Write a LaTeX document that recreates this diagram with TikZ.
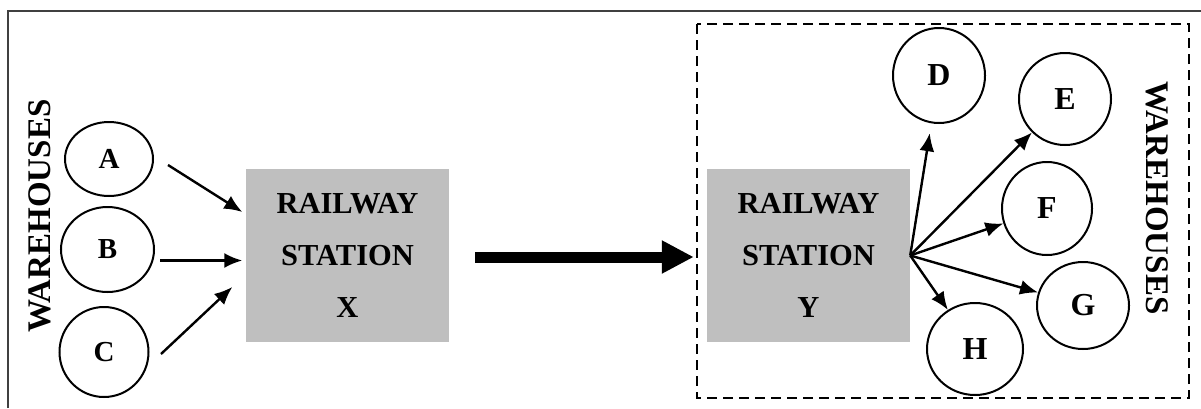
\documentclass[tikz,border=0pt]{standalone}
\usepackage{fontspec}
\setmainfont{Liberation Serif}
\usetikzlibrary{shapes.geometric}
\usetikzlibrary{arrows.meta}

\begin{document}
\begin{tikzpicture}[x=1pt,y=-1pt,
		house/.style={draw,ellipse,line width=2pt,inner sep=0pt,font=\fontsize{29}{29}\selectfont\bfseries},
		farhouse/.style={house,font=\fontsize{32}{32}\selectfont\bfseries},
		station/.style={fill=gray!50,minimum width=203pt,minimum height=173pt,inner sep=0pt,align=center,font=\fontsize{30.5}{52}\selectfont\bfseries},
		feed/.style={-{Latex[length=18pt,width=15pt]},line width=2.4pt},
		sidetext/.style={font=\fontsize{33}{33}\selectfont\bfseries}
	]
	\useasboundingbox (0,0) rectangle (1201,408);
	\draw [gray!50!black, line width=1.4pt] (8,408) -- (8,11) -- (1201,11);
	
	% origin side
	\node [sidetext, rotate=90] (westlabel) at (40,216) {WAREHOUSES};
	\node [house, minimum width=88pt, minimum height=74pt] (A) at (109,159) {A};
	\node [house, minimum width=93pt, minimum height=85pt] (B) at (107.5,249.5) {B};
	\node [house, minimum width=89pt, minimum height=90pt] (C) at (104,352) {C};
	\node [station] (X) at (347.5,255.5) {RAILWAY\\STATION\\X};
	
	\draw [feed] ([shift={(14,6)}]A.east) -- ([shift={(-3.5,-43.5)}]X.west);
	\draw [feed] ([shift={(5,11)}]B.east) -- ([shift={(-3.5,5)}]X.west);
	\draw [feed] ([shift={(11.5,2)}]C.east) -- ([shift={(-13.5,31.5)}]X.west);
	
	% destination side
	\draw [line width=2.2pt, dash pattern=on 10pt off 6pt] (697,24) rectangle (1189,398);
	\node [station] (Y) at (808.5,255.5) {RAILWAY\\STATION\\Y};
	\node [sidetext, rotate=-90] (eastlabel) at (1157,198) {WAREHOUSES};
	
	\node [farhouse, minimum width=92pt, minimum height=95pt] (D) at (939,75.5) {D};
	\node [farhouse, minimum width=92pt, minimum height=92pt] (E) at (1065,99) {E};
	\node [farhouse, minimum width=90pt, minimum height=93pt] (F) at (1047,208.5) {F};
	\node [farhouse, minimum width=92pt, minimum height=87pt] (G) at (1083,305.5) {G};
	\node [farhouse, minimum width=96pt, minimum height=92pt] (H) at (975,349) {H};
	
	\draw [feed, shorten >=10pt] (Y.east) -- (D);
	\draw [feed] (Y.east) -- (E);
	\draw [feed] (Y.east) -- (F);
	\draw [feed] (Y.east) -- (G);
	\draw [feed] (Y.east) -- (H);
	
	% rail link
	\draw [line width=11pt, -{Triangle[length=32pt,width=31pt]}] ([xshift=26pt,yshift=-1.5pt]X.east) -- ([xshift=-13pt,yshift=-1.5pt]Y.west);
\end{tikzpicture}
\end{document}
